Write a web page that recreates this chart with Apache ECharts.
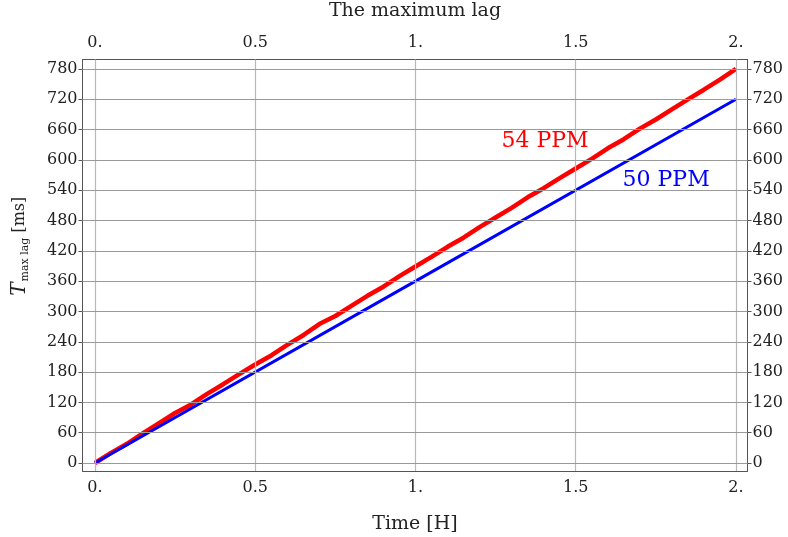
<!DOCTYPE html>
<html><head><meta charset="utf-8">
<script src="https://cdn.jsdelivr.net/npm/echarts@6/dist/echarts.min.js"></script>
<style>html,body{margin:0;padding:0;background:#fff}#c{width:788px;height:537px}</style>
</head><body><div id="c"></div>
<script>
// ---- data ----
const timeH = [0,0.05,0.1,0.15,0.2,0.25,0.3,0.35,0.4,0.45,0.5,0.55,0.6,0.65,0.7,0.75,0.8,0.85,0.9,0.95,1,
  1.05,1.1,1.15,1.2,1.25,1.3,1.35,1.4,1.45,1.5,1.55,1.6,1.65,1.7,1.75,1.8,1.85,1.9,1.95,2];
const ppm54 = [0,20,38,59,79,99,116,137,156,176,195,213,234,253,275,291,311,331,349,370,389,
  408,428,446,467,486,505,526,544,564,583,602,623,641,662,680,700,720,739,759,780];
const ppm50Time = [0,1,2];
const ppm50 = [0,360,720];
const xTicks = [0,0.5,1,1.5,2];
const xTickLabels = ['0.','0.5','1.','1.5','2.'];
const yTicks = [0,60,120,180,240,300,360,420,480,540,600,660,720,780];
const xRange = [-0.039,2.036];
const yRange = [-15.8,798.8];
const label54 = {text:'54 PPM', x:1.404, y:637};
const label50 = {text:'50 PPM', x:1.782, y:560};

const FONT = 'DejaVu Serif';
const frameColor = '#555';
const chart = echarts.init(document.getElementById('c'), null, {renderer:'canvas'});

function xAxisCfg(pos){
  return {
    type:'value', position:pos, min:xRange[0], max:xRange[1],
    axisLine:{show:true, onZero:false, lineStyle:{color:frameColor, width:1}},
    axisTick:{show:true, inside:true, length:6, customValues:xTicks, lineStyle:{color:frameColor}},
    axisLabel:{show:true, customValues:xTicks, margin:9, fontFamily:FONT, fontSize:16, color:'#222',
      formatter:v=>{const i=xTicks.findIndex(t=>Math.abs(t-v)<1e-9);return i>=0?xTickLabels[i]:'';}},
    splitLine:{show:false}
  };
}
function yAxisCfg(pos){
  return {
    type:'value', position:pos, min:yRange[0], max:yRange[1],
    axisLine:{show:true, onZero:false, lineStyle:{color:frameColor, width:1}},
    axisTick:{show:true, inside:false, length:4, customValues:yTicks, lineStyle:{color:frameColor}},
    axisLabel:{show:true, customValues:yTicks, margin:5, fontFamily:FONT, fontSize:16, color:'#222'},
    splitLine:{show:false}
  };
}
const xb = xAxisCfg('bottom');
xb.name='Time [H]'; xb.nameLocation='middle'; xb.nameGap=44;
xb.nameTextStyle={fontFamily:FONT, fontSize:19, color:'#222'};
const xt = xAxisCfg('top');
xt.name='The maximum lag'; xt.nameLocation='middle'; xt.nameGap=39;
xt.nameTextStyle={fontFamily:FONT, fontSize:19, color:'#222'};
const yl = yAxisCfg('left');
yl.name='{i|T}{s|max lag}{n| [ms]}'; yl.nameLocation='middle'; yl.nameGap=52; yl.nameRotate=90;
yl.nameTextStyle={fontFamily:FONT, fontSize:16, color:'#222', padding:[0,0,0,38],
  rich:{i:{fontFamily:FONT, fontStyle:'italic', fontSize:20, color:'#222'},
        s:{fontFamily:FONT, fontSize:11, color:'#222', padding:[10,0,0,1]},
        n:{fontFamily:FONT, fontSize:16, color:'#222'}}};
const yr = yAxisCfg('right');

const gridLines = [];
xTicks.forEach(v=>gridLines.push({xAxis:v, lineStyle:{color:'#b8b8b8', width:1.2, type:'solid'}}));
yTicks.forEach(v=>gridLines.push({yAxis:v, lineStyle:{color:'#9a9a9a', width:1.2, type:'solid'}}));

chart.setOption({
  animation:false,
  backgroundColor:'#fff',
  grid:{left:82.5, right:40.5, top:59.5, bottom:66, containLabel:false, outerBoundsMode:'none'},
  xAxis:[xb, xt],
  yAxis:[yl, yr],
  series:[
    {type:'line', xAxisIndex:0, yAxisIndex:0, data:[[0,0]], symbol:'none', lineStyle:{opacity:0}, silent:true, z:1,
     markLine:{silent:true, symbol:['none','none'], label:{show:false}, animation:false, data:gridLines}},
    {type:'line', name:'54 PPM', xAxisIndex:0, yAxisIndex:0, data:timeH.map((t,i)=>[t,ppm54[i]]),
     symbol:'none', lineStyle:{color:'#ff0000', width:4.5}, z:3,
     markPoint:{symbol:'circle', symbolSize:0, silent:true,
       data:[{coord:[label54.x,label54.y], label:{show:true, position:'inside', formatter:label54.text,
         fontFamily:FONT, fontSize:22, color:'#ff0000'}}]}},
    {type:'line', name:'50 PPM', xAxisIndex:0, yAxisIndex:0, data:ppm50Time.map((t,i)=>[t,ppm50[i]]),
     symbol:'none', lineStyle:{color:'#0000ff', width:3}, z:4,
     markPoint:{symbol:'circle', symbolSize:0, silent:true,
       data:[{coord:[label50.x,label50.y], label:{show:true, position:'inside', formatter:label50.text,
         fontFamily:FONT, fontSize:22, color:'#0000ff'}}]}}
  ]
});
</script></body></html>
